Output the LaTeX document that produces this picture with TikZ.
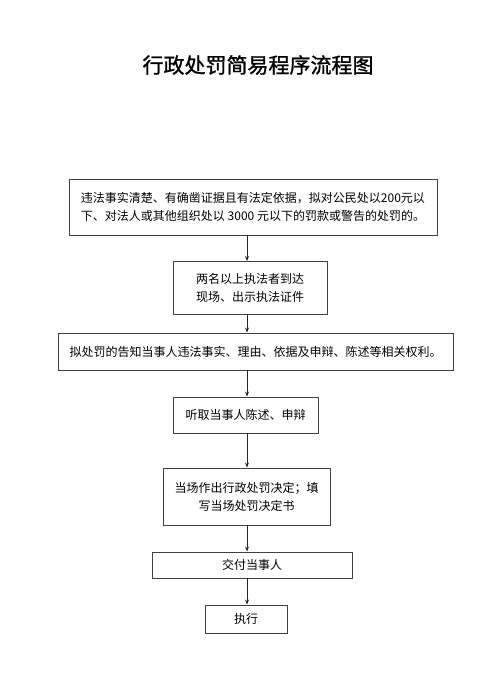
\documentclass[tikz,border=0pt]{standalone}
\usepackage{fontspec}
\setmainfont{Noto Sans CJK SC}
\newfontfamily\cjktitle[FakeBold=1.2]{Noto Sans CJK SC}
\usetikzlibrary{arrows.meta}
\begin{document}
\begin{tikzpicture}[x=1pt,y=-1pt,
  flowbox/.style={draw=black!75, line width=0.9pt, inner sep=0pt, align=center,
    font=\fontsize{12}{18}\selectfont},
  flowarrow/.style={line width=0.9pt, draw=black!85, -{Stealth[length=5pt,width=4pt]}}]
\useasboundingbox (0,0) rectangle (500,679);
\node[font=\cjktitle\fontsize{21}{26}\selectfont] (title) at (258,65) {行政处罚简易程序流程图};
\node[flowbox, minimum width=368pt, minimum height=56pt, align=left] (b1) at (253,207)
  {违法事实清楚、有确凿证据且有法定依据，拟对公民处以200元以\\下、对法人或其他组织处以 3000 元以下的罚款或警告的处罚的。};
\node[flowbox, minimum width=154pt, minimum height=53pt] (b2) at (250,288)
  {两名以上执法者到达\\现场、出示执法证件};
\node[flowbox, minimum width=395pt, minimum height=37pt] (b3) at (255.5,351.5)
  {拟处罚的告知当事人违法事实、理由、依据及申辩、陈述等相关权利。};
\node[flowbox, minimum width=145pt, minimum height=36pt] (b4) at (245.5,415)
  {听取当事人陈述、申辩};
\node[flowbox, minimum width=167pt, minimum height=57pt] (b5) at (246.5,496.5)
  {当场作出行政处罚决定；填\\写当场处罚决定书};
\node[flowbox, minimum width=200pt, minimum height=26pt] (b6) at (252,565)
  {交付当事人};
\node[flowbox, minimum width=82pt, minimum height=28pt] (b7) at (246,619)
  {执行};
\coordinate (ax) at (247,0);
\draw[flowarrow] (b1.south -| ax) -- (b2.north -| ax);
\draw[flowarrow] (b2.south -| ax) -- (b3.north -| ax);
\draw[flowarrow] (b3.south -| ax) -- (b4.north -| ax);
\draw[flowarrow] (b4.south -| ax) -- (b5.north -| ax);
\draw[flowarrow] (b5.south -| ax) -- (b6.north -| ax);
\draw[flowarrow] (b6.south -| ax) -- (b7.north -| ax);
\end{tikzpicture}
\end{document}
